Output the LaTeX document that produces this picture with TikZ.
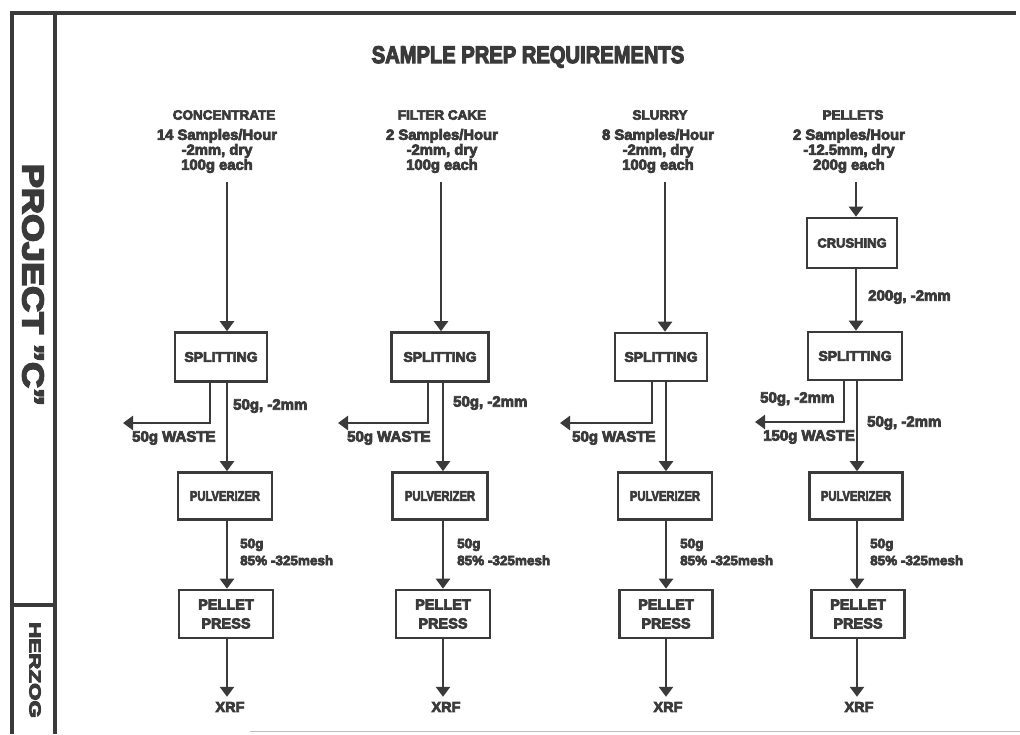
\documentclass[tikz,border=0pt]{standalone}
\usepackage{fontspec}
\setmainfont{Liberation Sans}[BoldFeatures={FakeBold=5}]
\usepackage{graphicx}
\usetikzlibrary{arrows.meta}
\definecolor{ink}{HTML}{3A3A3A}

\begin{document}
\begin{tikzpicture}[x=1pt,y=-1pt,
  every node/.style={text=ink, inner sep=0pt},
  frame/.style={draw=ink, line width=4.5pt},
  stepbox/.style={draw=ink, line width=2.6pt, align=center},
  arr/.style={draw=ink, line width=2.4pt, -{Triangle[width=14pt,length=10pt]}},
  hd/.style={font=\fontsize{13.5}{13.5}\selectfont\bfseries},
  spec/.style={align=center, font=\fontsize{14.8}{15}\selectfont\bfseries},
  lbl/.style={anchor=west, font=\fontsize{15}{15}\selectfont\bfseries},
  mesh/.style={anchor=west, align=left, font=\fontsize{13.5}{17}\selectfont\bfseries},
  xrf/.style={font=\fontsize{14.5}{14.5}\selectfont\bfseries}
]
\useasboundingbox (0,0) rectangle (1020,734);

% title block on the left
\draw[frame] (12,734) -- (12,13) -- (1016,13);
\draw[frame] (55,13) -- (55,734);
\draw[frame] (12,605) -- (55,605);
\draw[black!25, line width=0.8pt] (250,731) -- (1020,731);
\node[rotate=-90] (proj) at (33,285) {\scalebox{1.2}[1]{\fontsize{30}{30}\selectfont\bfseries PROJECT \symbol{34}C\symbol{34}}};
\node[rotate=-90] (herz) at (35,670) {\scalebox{1.4}[1]{\fontsize{16}{16}\selectfont\bfseries HERZOG}};

% heading
\node (title) at (528,57) {\scalebox{0.84}[1]{\fontsize{24}{24}\selectfont\bfseries SAMPLE PREP REQUIREMENTS}};

% column positions
\coordinate (k1) at (227,0);
\coordinate (k2) at (443,0);
\coordinate (k3) at (666,0);
\coordinate (k4) at (857,0);

% column 1: concentrate
\node[hd] (h1) at (224,115) {CONCENTRATE};
\node[spec] (s1) at (217,151) {14 Samples/Hour\\-2mm, dry\\100g each};
\coordinate (t1) at (227,182);
\node[stepbox, minimum width=92, minimum height=49, font=\fontsize{14}{14}\selectfont\bfseries] (sp1) at (221,357) {SPLITTING};
\node[stepbox, minimum width=94, minimum height=47] (pu1) at (225,496) {\scalebox{0.8}[1]{\fontsize{14}{14}\selectfont\bfseries PULVERIZER}};
\node[stepbox, minimum width=94, minimum height=48, font=\fontsize{14.5}{19}\selectfont\bfseries] (pp1) at (226,614) {PELLET\\PRESS};
\node[xrf] (x1) at (230,707) {XRF};
\coordinate (b1) at (210,0);
\coordinate (w1) at (123,423);
\node[lbl] (a1) at (233,406) {50g, -2mm};
\node[lbl] (ws1) at (132,438) {50g WASTE};
\node[mesh] (m1) at (240,552) {50g\\85\% -325mesh};
\draw[arr] (t1) -- (sp1.north -| t1);
\draw[arr] (sp1.south -| b1) |- (w1);
\draw[arr] (sp1.south -| k1) -- (pu1.north -| k1);
\draw[arr] (pu1.south -| k1) -- (pp1.north -| k1);
\draw[arr, shorten >=5pt] (pp1.south -| k1) -- (x1.north -| k1);

% column 2: filter cake
\node[hd] (h2) at (442,115) {FILTER CAKE};
\node[spec] (s2) at (442,151) {2 Samples/Hour\\-2mm, dry\\100g each};
\coordinate (t2) at (441,182);
\node[stepbox, minimum width=97, minimum height=49, font=\fontsize{14}{14}\selectfont\bfseries] (sp2) at (440,357) {SPLITTING};
\node[stepbox, minimum width=95, minimum height=47] (pu2) at (440,496) {\scalebox{0.8}[1]{\fontsize{14}{14}\selectfont\bfseries PULVERIZER}};
\node[stepbox, minimum width=94, minimum height=48, font=\fontsize{14.5}{19}\selectfont\bfseries] (pp2) at (443,614) {PELLET\\PRESS};
\node[xrf] (x2) at (446,707) {XRF};
\coordinate (b2) at (428,0);
\coordinate (w2) at (338,423);
\node[lbl] (a2) at (453,403) {50g, -2mm};
\node[lbl] (ws2) at (347,438) {50g WASTE};
\node[mesh] (m2) at (457,552) {50g\\85\% -325mesh};
\draw[arr] (t2) -- (sp2.north -| t2);
\draw[arr] (sp2.south -| b2) |- (w2);
\draw[arr] (sp2.south -| k2) -- (pu2.north -| k2);
\draw[arr] (pu2.south -| k2) -- (pp2.north -| k2);
\draw[arr, shorten >=5pt] (pp2.south -| k2) -- (x2.north -| k2);

% column 3: slurry
\node[hd] (h3) at (660,115) {SLURRY};
\node[spec] (s3) at (658,151) {8 Samples/Hour\\-2mm, dry\\100g each};
\coordinate (t3) at (665,182);
\node[stepbox, minimum width=92, minimum height=48, font=\fontsize{14}{14}\selectfont\bfseries] (sp3) at (661,357) {SPLITTING};
\node[stepbox, minimum width=94, minimum height=47] (pu3) at (665,496) {\scalebox{0.8}[1]{\fontsize{14}{14}\selectfont\bfseries PULVERIZER}};
\node[stepbox, minimum width=93, minimum height=48, font=\fontsize{14.5}{19}\selectfont\bfseries] (pp3) at (666,614) {PELLET\\PRESS};
\node[xrf] (x3) at (668,707) {XRF};
\coordinate (b3) at (652,0);
\coordinate (w3) at (560,423);
\node[lbl] (ws3) at (572,438) {50g WASTE};
\node[mesh] (m3) at (680,552) {50g\\85\% -325mesh};
\draw[arr] (t3) -- (sp3.north -| t3);
\draw[arr] (sp3.south -| b3) |- (w3);
\draw[arr] (sp3.south -| k3) -- (pu3.north -| k3);
\draw[arr] (pu3.south -| k3) -- (pp3.north -| k3);
\draw[arr, shorten >=5pt] (pp3.south -| k3) -- (x3.north -| k3);

% column 4: pellets
\node[hd] (h4) at (853,115) {PELLETS};
\node[spec] (s4) at (849,151) {2 Samples/Hour\\-12.5mm, dry\\200g each};
\coordinate (t4) at (856,182);
\node[stepbox, minimum width=90, minimum height=50, font=\fontsize{13}{13}\selectfont\bfseries] (cr4) at (852,243) {CRUSHING};
\node[stepbox, minimum width=94, minimum height=48, font=\fontsize{14}{14}\selectfont\bfseries] (sp4) at (855,356) {SPLITTING};
\node[stepbox, minimum width=93, minimum height=47] (pu4) at (856,496) {\scalebox{0.8}[1]{\fontsize{14}{14}\selectfont\bfseries PULVERIZER}};
\node[stepbox, minimum width=93, minimum height=48, font=\fontsize{14.5}{19}\selectfont\bfseries] (pp4) at (858,614) {PELLET\\PRESS};
\node[xrf] (x4) at (859,707) {XRF};
\coordinate (b4) at (844,0);
\coordinate (w4) at (755,422);
\node[lbl] (c4) at (868,297) {200g, -2mm};
\node[lbl] (d4) at (760,399) {50g, -2mm};
\node[lbl] (ws4) at (763,437) {150g WASTE};
\node[lbl] (a4) at (867,423) {50g, -2mm};
\node[mesh] (m4) at (870,552) {50g\\85\% -325mesh};
\draw[arr] (t4) -- (cr4.north -| t4);
\draw[arr] (cr4.south -| t4) -- (sp4.north -| t4);
\draw[arr] (sp4.south -| b4) |- (w4);
\draw[arr] (sp4.south -| k4) -- (pu4.north -| k4);
\draw[arr] (pu4.south -| k4) -- (pp4.north -| k4);
\draw[arr, shorten >=5pt] (pp4.south -| k4) -- (x4.north -| k4);
\end{tikzpicture}
\end{document}
